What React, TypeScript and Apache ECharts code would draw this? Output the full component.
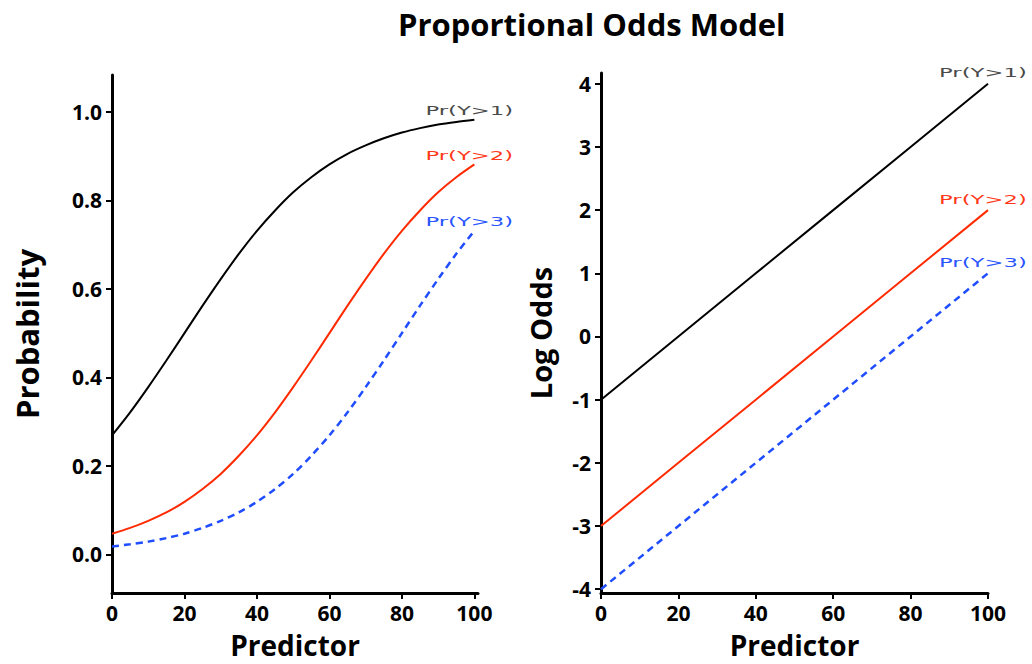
import React, { useEffect, useRef } from "react";
import * as echarts from "echarts";

const predictorX = [0, 5, 10, 15, 20, 25, 30, 35, 40, 45, 50, 55, 60, 65, 70, 75, 80, 85, 90, 95, 100];
const probY1 = [0.269, 0.321, 0.378, 0.438, 0.5, 0.562, 0.622, 0.679, 0.731, 0.777, 0.818, 0.852, 0.881, 0.905, 0.924, 0.94, 0.953, 0.963, 0.971, 0.977, 0.982];
const probY2 = [0.047, 0.06, 0.076, 0.095, 0.119, 0.148, 0.182, 0.223, 0.269, 0.321, 0.378, 0.438, 0.5, 0.562, 0.622, 0.679, 0.731, 0.777, 0.818, 0.852, 0.881];
const probY3 = [0.018, 0.023, 0.029, 0.037, 0.047, 0.06, 0.076, 0.095, 0.119, 0.148, 0.182, 0.223, 0.269, 0.321, 0.378, 0.438, 0.5, 0.562, 0.622, 0.679, 0.731];

const logX = [0, 20, 40, 60, 80, 100];
const logY1 = [-1, 0, 1, 2, 3, 4];
const logY2 = [-3, -2, -1, 0, 1, 2];
const logY3 = [-4, -3, -2, -1, 0, 1];

const seriesNames = ["Pr(Y>1)", "Pr(Y>2)", "Pr(Y>3)"];
const probTicks = [0, 0.2, 0.4, 0.6, 0.8, 1.0];
const logTicks = [-4, -3, -2, -1, 0, 1, 2, 3, 4];

const lineColors = ["#000000", "#ff2a00", "#1f4dff"];
const labelColors = ["#4a4a4a", "#ff3a1a", "#2a55ff"];

const zip = (xs: number[], ys: number[]) => xs.map((x, i) => [x, ys[i]]);

export default function App() {
  const ref = useRef<HTMLDivElement>(null);
  useEffect(() => {
    if (!ref.current) return;
    const chart = echarts.init(ref.current, undefined, { renderer: "svg" });
    const tickFont = { fontFamily: "Open Sans", fontWeight: "bold" as const, fontSize: 21, lineHeight: 21, color: "#000" };
    const axisLine = { show: true, onZero: false, lineStyle: { color: "#000", width: 3 } };
    const axisTick = { show: true, length: 6, lineStyle: { color: "#000", width: 2 } };
    const lineStyles = [
      { color: lineColors[0], width: 2, type: "solid" as const },
      { color: lineColors[1], width: 2, type: "solid" as const },
      { color: lineColors[2], width: 2.5, type: [7, 5] as any },
    ];
    const probData = [probY1, probY2, probY3];
    const logData = [logY1, logY2, logY3];
    const nameFont = (size: number) => ({ fontFamily: "Open Sans", fontWeight: "bold", fontSize: size, lineHeight: size, color: "#000" });

    chart.setOption({
      animation: false,
      backgroundColor: "#fff",
      title: {
        text: "Proportional Odds Model",
        left: 393,
        top: 3,
        textStyle: { fontFamily: "Open Sans", fontWeight: "bold", fontSize: 31, color: "#000" },
      },
      grid: [
        { left: 112, top: 75, width: 366, height: 524 },
        { left: 601, top: 73, width: 387, height: 526 },
      ],
      xAxis: [
        {
          gridIndex: 0, type: "value", min: 0, max: 101, interval: 20,
          axisLine, axisTick, splitLine: { show: false },
          axisLabel: { ...tickFont, margin: 9 },
          name: "Predictor", nameLocation: "middle", nameGap: 38,
          nameTextStyle: nameFont(28),
        },
        {
          gridIndex: 1, type: "value", min: 0, max: 100, interval: 20,
          axisLine, axisTick, splitLine: { show: false },
          axisLabel: { ...tickFont, margin: 9 },
          name: "Predictor", nameLocation: "middle", nameGap: 38,
          nameTextStyle: nameFont(28),
        },
      ],
      yAxis: [
        {
          gridIndex: 0, type: "value", min: -0.087, max: 1.083,
          axisLine, axisTick: { ...axisTick, customValues: probTicks },
          splitLine: { show: false },
          axisLabel: { ...tickFont, margin: 10, customValues: probTicks, formatter: (v: number) => v.toFixed(1) },
          name: "Probability", nameLocation: "middle", nameGap: 70, nameRotate: 90,
          nameTextStyle: nameFont(31),
        },
        {
          gridIndex: 1, type: "value", min: -4.06, max: 4.17,
          axisLine, axisTick: { ...axisTick, customValues: logTicks },
          splitLine: { show: false },
          axisLabel: { ...tickFont, margin: 10, customValues: logTicks, formatter: (v: number) => String(v) },
          name: "Log Odds", nameLocation: "middle", nameGap: 46, nameRotate: 90,
          nameTextStyle: nameFont(29),
        },
      ],
      series: [
        ...probData.map((ys, i) => ({
          name: seriesNames[i], type: "line", xAxisIndex: 0, yAxisIndex: 0,
          data: zip(predictorX, ys), smooth: 0.3, showSymbol: false, lineStyle: lineStyles[i],
        })),
        ...logData.map((ys, i) => ({
          name: seriesNames[i] + " log", type: "line", xAxisIndex: 1, yAxisIndex: 1,
          data: zip(logX, ys), showSymbol: false, lineStyle: lineStyles[i],
        })),
      ],
    });

    const graphics: any[] = [];
    probData.forEach((ys, i) => {
      const p = chart.convertToPixel({ seriesIndex: i }, [predictorX[predictorX.length - 1], ys[ys.length - 1]]) as number[];
      graphics.push({
        type: "text", x: p[0] - 49, y: p[1] - 9, scaleX: 1.75,
        style: { text: seriesNames[i], fill: labelColors[i], font: '13px "DejaVu Sans"', textVerticalAlign: "middle", textAlign: "left" },
      });
    });
    logData.forEach((ys, i) => {
      const p = chart.convertToPixel({ seriesIndex: i + 3 }, [logX[logX.length - 1], ys[ys.length - 1]]) as number[];
      graphics.push({
        type: "text", x: p[0] - 49, y: p[1] - 11, scaleX: 1.75,
        style: { text: seriesNames[i], fill: labelColors[i], font: '13px "DejaVu Sans"', textVerticalAlign: "middle", textAlign: "left" },
      });
    });
    chart.setOption({ graphic: graphics });

    return () => chart.dispose();
  }, []);
  return <div ref={ref} style={{ position: "fixed", left: 0, top: 0, width: 1032, height: 664 }} />;
}
